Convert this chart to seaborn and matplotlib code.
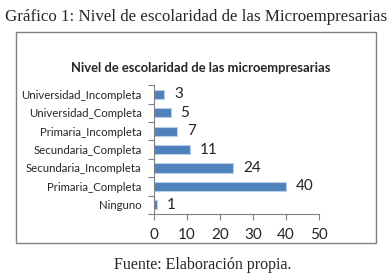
import numpy as np
import pandas as pd
import matplotlib
matplotlib.use('Agg')
import matplotlib.pyplot as plt
import seaborn as sns
from matplotlib.patches import Rectangle

categorias = ['Universidad_Incompleta', 'Universidad_Completa', 'Primaria_Incompleta',
              'Secundaria_Completa', 'Secundaria_Incompleta', 'Primaria_Completa', 'Ninguno']
valores = [3, 5, 7, 11, 24, 40, 1]
xticks = [0, 10, 20, 30, 40, 50]

sns.set_style('white')
plt.rcParams['font.family'] = ['Lato', 'DejaVu Sans']

data = pd.DataFrame({'Nivel': categorias, 'Cantidad': valores})

fig = plt.figure(figsize=(3.92, 2.76), dpi=100)
ax = fig.add_axes([0.393, 0.2246, 0.421, 0.467])

sns.barplot(x='Cantidad', y='Nivel', data=data, orient='h', color='#4F81BD',
            width=0.5, saturation=1, edgecolor='#B9CDE5', linewidth=0.8, ax=ax)

for i, v in enumerate(valores):
    ax.text(v + 3, i, str(v), va='center', ha='left', fontsize=11, color='#222222')

ax.set_xlim(0, 50)
ax.set_ylim(6.5, -0.5)
ax.set_xticks(xticks)
ax.set_xticklabels([str(t) for t in xticks], fontsize=11)
ax.set_xlabel('')
ax.set_ylabel('')
ax.tick_params(axis='y', which='major', length=0, labelsize=8.2, pad=9)
ax.set_yticks(np.arange(-0.5, 7, 1), minor=True)
ax.tick_params(axis='y', which='minor', length=4, color='#808080', width=0.8, direction='out', left=True)
ax.tick_params(axis='x', length=4, color='#808080', width=0.8, direction='out', bottom=True, pad=6)
for s in ['top', 'right']:
    ax.spines[s].set_visible(False)
for s in ['left', 'bottom']:
    ax.spines[s].set_color('#808080')
    ax.spines[s].set_linewidth(0.8)

fig.patches.append(Rectangle((0.042, 0.1196), 0.918, 0.764, transform=fig.transFigure,
                             fill=False, edgecolor='#808080', linewidth=1))

fig.text(0.501, 0.938, 'Gráfico 1: Nivel de escolaridad de las Microempresarias',
         ha='center', va='center', fontsize=12.2, family='Liberation Serif')
fig.text(0.513, 0.754, 'Nivel de escolaridad de las microempresarias',
         ha='center', va='center', fontsize=9.4, fontweight='bold')
fig.text(0.518, 0.04, 'Fuente: Elaboración propia.',
         ha='center', va='center', fontsize=11.5, family='Liberation Serif')

fig.savefig('out.png', dpi=100)
